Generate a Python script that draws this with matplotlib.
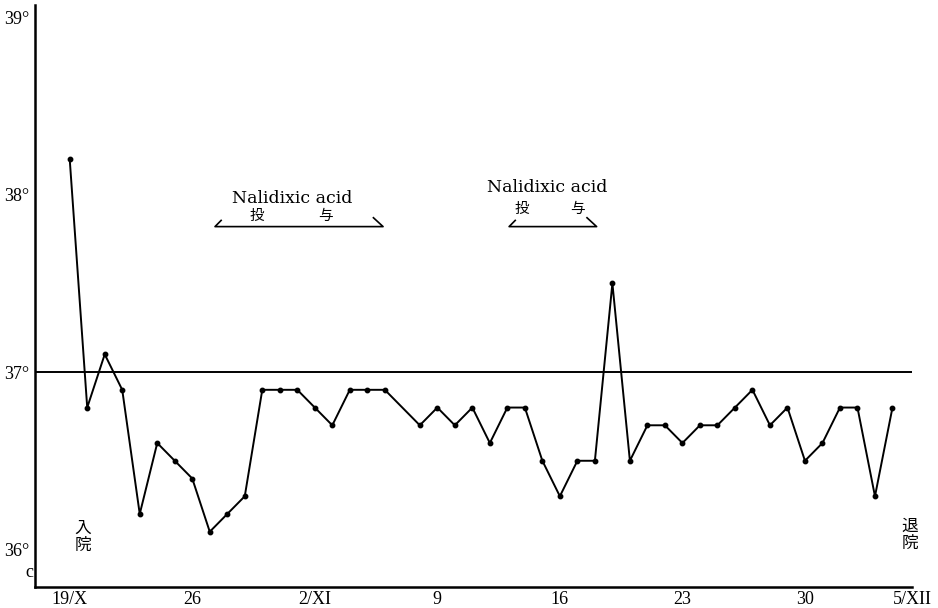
import numpy as np
import matplotlib.pyplot as plt

plt.rcParams['font.family'] = ['Liberation Serif', 'Noto Sans CJK JP']

# day 0 = 19/X, no reading on day 19
days = list(range(0, 19)) + list(range(20, 48))
temps = [38.2, 36.8, 37.1, 36.9, 36.2, 36.6, 36.5, 36.4, 36.1, 36.2,
         36.3, 36.9, 36.9, 36.9, 36.8, 36.7, 36.9, 36.9, 36.9,
         36.7, 36.8, 36.7, 36.8, 36.6, 36.8, 36.8, 36.5, 36.3, 36.5,
         36.5, 37.5, 36.5, 36.7, 36.7, 36.6, 36.7, 36.7, 36.8, 36.9,
         36.7, 36.8, 36.5, 36.6, 36.8, 36.8, 36.3, 36.8]

tick_days = [0, 7, 14, 21, 28, 35, 42, 47]
tick_labels = ['19/X', '26', '2/XI', '9', '16', '23', '30', '5/XII']
temp_ticks = [36, 37, 38, 39]
temp_labels = ['36°', '37°', '38°', '39°']
normal_temp = 37

# Nalidixic acid given (start day, end day)
drug_periods = [(8.3, 17.9), (25.1, 30.1)]

fig = plt.figure(figsize=(9.38, 6.08), dpi=100)
ax = fig.add_axes([0.037, 0.035, 0.935, 0.957])

ax.plot(days, temps, color='black', lw=1.4, marker='o', ms=3.2)
ax.axhline(normal_temp, color='black', lw=1.4)

# drug brackets and labels (label y offsets differ a little per bracket)
y_br = 37.82
label_pos = [(12.7, 37.98, 10.7, 14.6, 37.88), (27.3, 38.04, 25.8, 29.0, 37.92)]
for (s, e), (xn, yn, x1, x2, yt) in zip(drug_periods, label_pos):
    ax.plot([s + 0.35, s, e, e - 0.55], [y_br + 0.035, y_br, y_br, y_br + 0.05],
            color='black', lw=1.2)
    ax.text(xn, yn, 'Nalidixic acid', ha='center', va='center', fontsize=12.5,
            family='DejaVu Serif')
    ax.text(x1, yt, '投', ha='center', va='center', fontsize=10.5,
            family='Noto Sans CJK JP')
    ax.text(x2, yt, '与', ha='center', va='center', fontsize=10.5,
            family='Noto Sans CJK JP')

ax.text(0.75, 36.07, '入\n院', ha='center', va='center', fontsize=12,
        family='Noto Sans CJK JP', linespacing=1.0)
ax.text(48.0, 36.08, '退\n院', ha='center', va='center', fontsize=12,
        family='Noto Sans CJK JP', linespacing=1.0, clip_on=False)
ax.text(-2.3, 35.87, 'c', ha='center', va='center', fontsize=13, clip_on=False)

ax.set_xlim(-2.0, 48.1)
ax.set_ylim(35.79, 39.07)
ax.set_xticks(tick_days)
ax.set_xticklabels(tick_labels, fontsize=13)
ax.get_xticklabels()[-1].set_ha('left')
ax.set_yticks(temp_ticks)
ax.set_yticklabels(temp_labels, fontsize=13)
ax.tick_params(length=0, pad=3)
ax.tick_params(axis='y', pad=4)

for side in ['top', 'right']:
    ax.spines[side].set_visible(False)
for side in ['left', 'bottom']:
    ax.spines[side].set_linewidth(1.8)

fig.savefig('out.png', dpi=100)
